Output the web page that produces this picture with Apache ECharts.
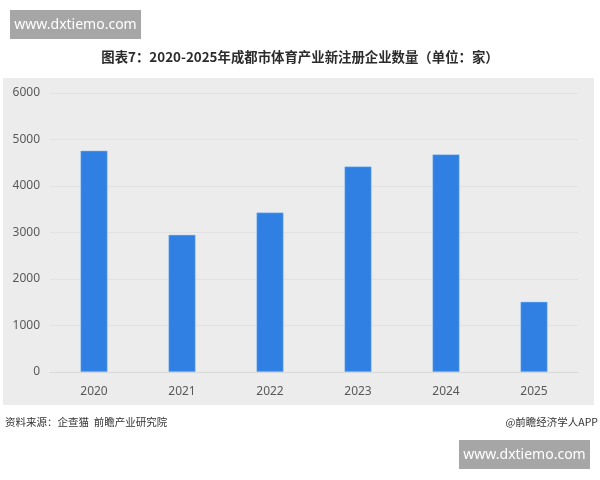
<!DOCTYPE html>
<html>
<head>
<meta charset="utf-8">
<script src="https://cdn.jsdelivr.net/npm/echarts@6/dist/echarts.min.js"></script>
<style>html,body{margin:0;padding:0;background:#fff;}#c{width:600px;height:480px;}</style>
</head>
<body>
<div id="c"></div>
<script>
const categories = ['2020', '2021', '2022', '2023', '2024', '2025'];
const values = [4760, 2950, 3430, 4420, 4680, 1510];
const yTicks = [0, 1000, 2000, 3000, 4000, 5000, 6000];
const titleText = '图表7：2020-2025年成都市体育产业新注册企业数量（单位：家）';
const sourceText = '资料来源：企查猫  前瞻产业研究院';
const creditText = '@前瞻经济学人APP';
const siteText = 'www.dxtiemo.com';

const chart = echarts.init(document.getElementById('c'), null, {renderer: 'canvas'});
const font = '"Noto Sans CJK SC", "Microsoft YaHei", sans-serif';
chart.setOption({
  backgroundColor: '#ffffff',
  animation: false,
  textStyle: {fontFamily: font},
  grid: {left: 50, right: 22, top: 93, bottom: 108, containLabel: false},
  graphic: [
    {type: 'rect', z: -10, silent: true, shape: {x: 3, y: 78, width: 591, height: 327}, style: {fill: '#ececec'}},
    {type: 'rect', shape: {x: 10, y: 10, width: 131, height: 29}, style: {fill: '#a6a6a6'}},
    {type: 'text', x: 75.5, y: 25, style: {text: siteText, fill: '#ffffff', font: '14px "Noto Sans", sans-serif', textAlign: 'center', textVerticalAlign: 'middle'}},
    {type: 'rect', shape: {x: 459, y: 440, width: 131, height: 29}, style: {fill: '#a6a6a6'}},
    {type: 'text', x: 524.5, y: 455, style: {text: siteText, fill: '#ffffff', font: '14px "Noto Sans", sans-serif', textAlign: 'center', textVerticalAlign: 'middle'}},
    {type: 'text', x: 300, y: 57, style: {text: titleText, fill: '#2b2b2b', font: 'bold 13.4px ' + font, textAlign: 'center', textVerticalAlign: 'middle'}},
    {type: 'text', x: 5, y: 422, style: {text: sourceText, fill: '#333333', font: '10.5px ' + font, textAlign: 'left', textVerticalAlign: 'middle'}},
    {type: 'text', x: 598, y: 422, style: {text: creditText, fill: '#333333', font: '10.5px ' + font, textAlign: 'right', textVerticalAlign: 'middle'}}
  ],
  xAxis: {
    type: 'category',
    data: categories,
    axisLine: {show: true, lineStyle: {color: '#d8d8d8'}},
    axisTick: {show: false},
    axisLabel: {color: '#595959', fontSize: 12, margin: 14, fontFamily: '"Noto Sans", sans-serif'}
  },
  yAxis: {
    type: 'value',
    min: yTicks[0],
    max: yTicks[yTicks.length - 1],
    interval: 1000,
    axisLine: {show: false},
    axisTick: {show: false},
    axisLabel: {color: '#595959', fontSize: 12, margin: 10, fontFamily: '"Noto Sans", sans-serif', formatter: function (v) { return String(v); }},
    splitLine: {lineStyle: {color: '#e2e2e2'}}
  },
  series: [{
    type: 'bar',
    data: values,
    barWidth: 27,
    itemStyle: {color: '#2f80e2', borderColor: '#9cc8f2', borderWidth: 0.5}
  }]
});
</script>
</body>
</html>
